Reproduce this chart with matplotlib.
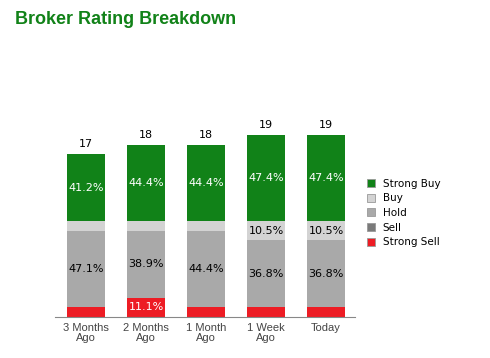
import numpy as np
import matplotlib.pyplot as plt
from matplotlib.lines import Line2D

periods = ["3 Months\nAgo", "2 Months\nAgo", "1 Month\nAgo", "1 Week\nAgo", "Today"]
ratings = ["Strong Buy", "Buy", "Hold", "Sell", "Strong Sell"]
strong_buy = [7, 8, 8, 9, 9]
buy = [1, 1, 1, 2, 2]
hold = [8, 7, 8, 7, 7]
sell = [0, 0, 0, 0, 0]
strong_sell = [1, 2, 1, 1, 1]

colors = {
    "Strong Buy": "#118218",
    "Buy": "#d3d3d3",
    "Hold": "#a9a9a9",
    "Sell": "#7a7a7a",
    "Strong Sell": "#ed1c24",
}
text_colors = {"Strong Buy": "white", "Buy": "black", "Hold": "black",
               "Sell": "white", "Strong Sell": "white"}

# stacking order from the bottom up
stack = [("Strong Sell", strong_sell), ("Sell", sell), ("Hold", hold),
         ("Buy", buy), ("Strong Buy", strong_buy)]

totals = np.array(strong_buy) + np.array(buy) + np.array(hold) + np.array(sell) + np.array(strong_sell)
x = np.arange(len(periods))

fig = plt.figure(figsize=(4.9, 3.58), dpi=100)
ax = fig.add_axes([0.112, 0.1145, 0.612, 0.535])

bottom = np.zeros(len(periods))
for name, vals in stack:
    vals = np.array(vals, dtype=float)
    ax.bar(x, vals, width=0.62, bottom=bottom, color=colors[name], linewidth=0)
    for i, v in enumerate(vals):
        pct = v / totals[i] * 100
        if pct >= 10:
            ax.text(x[i], bottom[i] + v / 2, f"{pct:.1f}%", ha="center", va="center",
                    fontsize=8, color=text_colors[name], family="DejaVu Sans")
    bottom += vals

for i, t in enumerate(totals):
    ax.text(x[i], t + 0.5, str(t), ha="center", va="bottom", fontsize=8,
            color="black", clip_on=False)

ax.set_xlim(-0.52, 4.48)
ax.set_ylim(0, 20)
ax.set_yticks([])
ax.set_xticks(x)
ax.set_xticklabels(periods, fontsize=8, color="#444444", family="Liberation Sans",
                   linespacing=1.0)
ax.tick_params(axis="x", length=0, pad=4)
for s in ["top", "left", "right"]:
    ax.spines[s].set_visible(False)
ax.spines["bottom"].set_color("#888888")
ax.spines["bottom"].set_linewidth(0.8)

handles = [Line2D([], [], linestyle="none", marker="s", markersize=6,
                  markerfacecolor=colors[r], markeredgecolor="#999999",
                  markeredgewidth=0.6, label=r) for r in ratings]
fig.legend(handles=handles, loc="upper left", bbox_to_anchor=(0.728, 0.527),
           frameon=False, fontsize=7.5, handletextpad=0.6, labelspacing=0.45,
           handlelength=1.0)

fig.text(0.031, 0.945, "Broker Rating Breakdown", fontsize=13, fontweight="bold",
         color="#118218", family="Liberation Sans", ha="left", va="center")

fig.savefig("out.png", dpi=100, facecolor="white")
